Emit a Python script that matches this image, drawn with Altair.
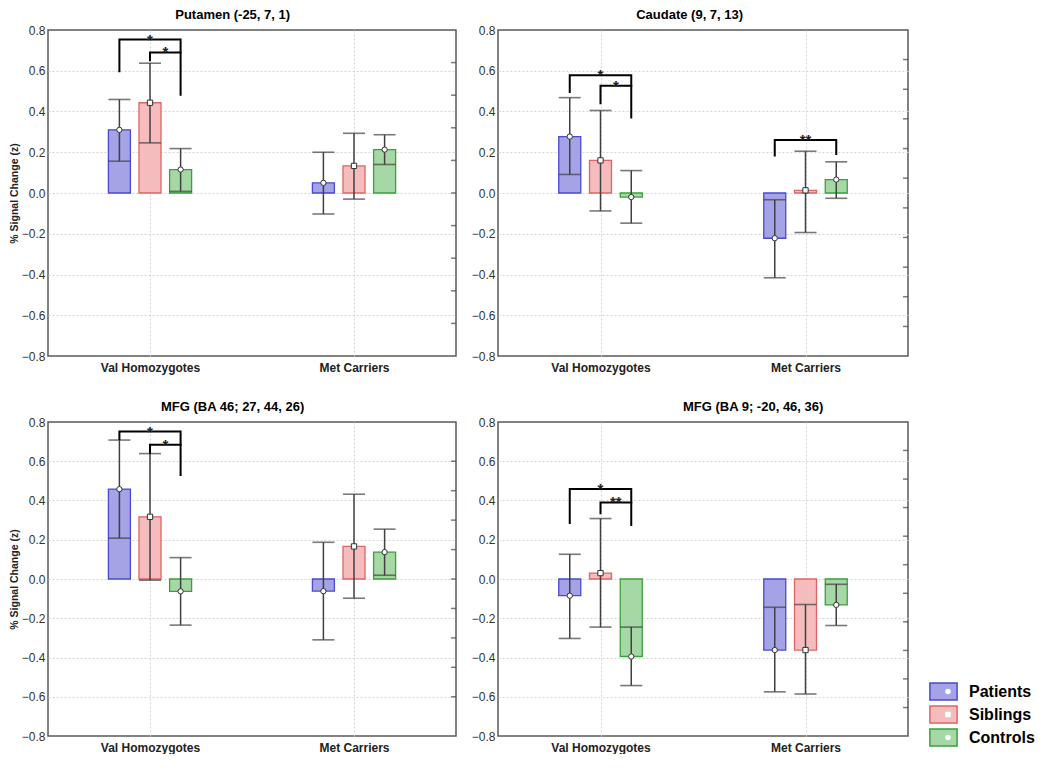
import altair as alt
import pandas as pd

FONT = "Liberation Sans"

regions = ["Putamen (-25, 7, 1)", "Caudate (9, 7, 13)",
           "MFG (BA 46; 27, 44, 26)", "MFG (BA 9; -20, 46, 36)"]
genotypes = ["Val Homozygotes", "Met Carriers"]
groups = ["Patients", "Siblings", "Controls"]

# order inside each region: Val P, Val S, Val C, Met P, Met S, Met C
means = [
    [0.310, 0.443, 0.115, 0.050, 0.133, 0.213],
    [0.277, 0.160, -0.020, -0.222, 0.013, 0.066],
    [0.458, 0.317, -0.063, -0.062, 0.166, 0.137],
    [-0.085, 0.030, -0.395, -0.362, -0.362, -0.132],
]
lows = [
    [0.156, 0.246, 0.008, -0.103, -0.030, 0.140],
    [0.091, -0.088, -0.148, -0.416, -0.194, -0.026],
    [0.208, -0.006, -0.235, -0.310, -0.098, 0.019],
    [-0.303, -0.245, -0.543, -0.575, -0.586, -0.237],
]
highs = [
    [0.459, 0.637, 0.218, 0.200, 0.293, 0.286],
    [0.468, 0.405, 0.110, -0.033, 0.205, 0.153],
    [0.708, 0.639, 0.109, 0.187, 0.432, 0.254],
    [0.126, 0.308, -0.245, -0.144, -0.130, -0.027],
]

# minor ticks on the right-hand frame of each panel
right_ticks = [
    [-0.64, -0.48, -0.32, -0.16, 0.0, 0.16, 0.32, 0.48, 0.64],
    [-0.655, -0.509, -0.364, -0.218, -0.073, 0.073, 0.218, 0.364, 0.509, 0.655],
    [-0.60, -0.45, -0.30, -0.15, 0.0, 0.15, 0.30, 0.45, 0.60],
    [-0.655, -0.509, -0.364, -0.218, -0.073, 0.073, 0.218, 0.364, 0.509, 0.655],
]

# significance brackets
br_region = [0, 0, 1, 1, 1, 2, 2, 3, 3]
br_genotype = [0, 0, 0, 0, 1, 0, 0, 0, 0]
br_left = ["Patients", "Siblings", "Patients", "Siblings", "Patients",
           "Patients", "Siblings", "Patients", "Siblings"]
br_right = ["Controls"] * 9
br_level = [0.753, 0.690, 0.578, 0.526, 0.260, 0.751, 0.684, 0.459, 0.390]
br_left_end = [0.597, 0.652, 0.496, 0.441, 0.184, 0.713, 0.642, 0.285, 0.335]
br_right_end = [0.482, 0.690, 0.370, 0.526, 0.192, 0.530, 0.684, 0.275, 0.390]
br_label = ["*", "*", "*", "*", "**", "*", "*", "*", "**"]

fills = ["#a3a3e6", "#f4bcbc", "#a6d8a6"]
strokes = ["#4a4ad0", "#e06464", "#3aa03a"]
shapes = ["circle", "square", "circle"]
marker_names = ["m_" + g for g in groups]

GROUP_OFFSET = 0.30
cpos = {c: 1 + 2 * i for i, c in enumerate(genotypes)}
gpos = {g: (i - 1) * GROUP_OFFSET for i, g in enumerate(groups)}

rows = []
for r, reg in enumerate(regions):
    k = 0
    for c in genotypes:
        for gi, g in enumerate(groups):
            rows.append(dict(region=reg, genotype=c, group=g, marker=marker_names[gi],
                             xpos=cpos[c] + gpos[g], mean=means[r][k],
                             lo=lows[r][k], hi=highs[r][k]))
            k += 1
bars = pd.DataFrame(rows)

path_rows, lab_rows = [], []
for i in range(len(br_region)):
    reg = regions[br_region[i]]
    c = genotypes[br_genotype[i]]
    xl = cpos[c] + gpos[br_left[i]]
    xr = cpos[c] + gpos[br_right[i]]
    pts = [(xl, br_left_end[i]), (xl, br_level[i]), (xr, br_level[i]), (xr, br_right_end[i])]
    for o, (bx, by) in enumerate(pts):
        path_rows.append(dict(region=reg, bid=i, ord=o, bx=bx, by=by))
    lab_rows.append(dict(region=reg, tx=(xl + xr) / 2, ty=br_level[i], label=br_label[i]))
paths = pd.DataFrame(path_rows)
labels = pd.DataFrame(lab_rows)

tick_df = pd.DataFrame([dict(region=regions[r], t=t)
                        for r in range(len(regions)) for t in right_ticks[r]])

xscale = alt.Scale(domain=[0, 4], nice=False, zero=False, padding=0)
yscale = alt.Scale(domain=[-0.8, 0.8], nice=False, zero=False, padding=0)


def xaxis():
    return alt.Axis(values=[1, 3], title=None,
                    labelExpr="datum.value == 1 ? 'Val Homozygotes' : 'Met Carriers'",
                    labelFontWeight="bold", labelFontSize=12, labelColor="#222",
                    labelPadding=6, grid=True, ticks=False, domain=False)


def yaxis(show_title):
    kw = dict(values=[-0.8, -0.6, -0.4, -0.2, 0.0, 0.2, 0.4, 0.6, 0.8], format=".1f",
              labelFontSize=12, labelColor="#333", labelPadding=3, grid=True,
              gridOpacity=alt.condition("abs(datum.value) > 0.79", alt.value(0), alt.value(1)),
              ticks=False, domain=False)
    if show_title:
        kw.update(title="% Signal Change (z)", titleFontSize=10.5, titleFontWeight="bold",
                  titleColor="#222", titlePadding=2)
    else:
        kw.update(title=None)
    return alt.Axis(**kw)


def panel(r, w, h, show_title, with_legend, lx=0, ly=0):
    reg = regions[r]
    d = bars[bars.region == reg]
    X = lambda f: alt.X(f, scale=xscale, axis=xaxis())
    Y = lambda f: alt.Y(f, scale=yscale, axis=yaxis(show_title))

    if with_legend:
        fill_leg = alt.Legend(title=None, orient="none", legendX=lx, legendY=ly,
                              symbolType="M-1.6,-1H1.6V1H-1.6Z", symbolSize=289,
                              symbolStrokeWidth=1.5, symbolOffset=5, labelOffset=16,
                              labelFont=FONT, labelFontSize=16, labelFontWeight="bold",
                              labelColor="black", rowPadding=4, clipHeight=19,
                              symbolOpacity=1)
        shape_leg = alt.Legend(title=None, orient="none", legendX=lx, legendY=ly,
                               symbolSize=30, symbolStrokeWidth=1,
                               symbolFillColor="white", symbolStrokeColor="black",
                               symbolOffset=11, labelExpr="''", labelFontSize=16,
                               rowPadding=4, clipHeight=19)
    else:
        fill_leg = None
        shape_leg = None

    fill_enc = alt.Fill("group:N", scale=alt.Scale(domain=groups, range=fills),
                        legend=fill_leg)
    stroke_enc = alt.Stroke("group:N", scale=alt.Scale(domain=groups, range=strokes),
                            legend=fill_leg)

    b = alt.Chart(d).mark_bar(size=22, strokeWidth=1.3, opacity=1).encode(
        x=X("xpos:Q"), y=Y("mean:Q"), y2=alt.datum(0), fill=fill_enc, stroke=stroke_enc)

    whisk = alt.Chart(d).mark_rule(color="#404040", strokeWidth=1.5).encode(
        x=X("xpos:Q"), y=Y("lo:Q"), y2="hi:Q")

    caps = alt.Chart(d).transform_fold(["lo", "hi"], as_=["k", "v"]).mark_tick(
        orient="horizontal", size=22, thickness=1.6, color="#404040").encode(
        x=X("xpos:Q"), y=Y("v:Q"))

    pts = alt.Chart(d).mark_point(filled=True, fill="white", stroke="#303030",
                                  strokeWidth=1, size=28, opacity=1).encode(
        x=X("xpos:Q"), y=Y("mean:Q"),
        shape=alt.Shape("marker:N", scale=alt.Scale(domain=marker_names, range=shapes),
                        legend=shape_leg))

    pth = alt.Chart(paths[paths.region == reg]).mark_line(
        color="black", strokeWidth=2, strokeCap="square").encode(
        x=X("bx:Q"), y=Y("by:Q"), detail="bid:N", order="ord:Q")

    txt = alt.Chart(labels[labels.region == reg]).mark_text(
        font=FONT, fontSize=15, fontWeight="bold", baseline="alphabetic", dy=5,
        color="#222").encode(x=X("tx:Q"), y=Y("ty:Q"), text="label:N")

    rt = alt.Chart(tick_df[tick_df.region == reg]).mark_tick(
        orient="horizontal", size=5, thickness=1.5, xOffset=-2.5, color="#444").encode(
        x=alt.X(datum=4, scale=xscale, axis=xaxis()), y=Y("t:Q"))

    return alt.layer(b, whisk, caps, pts, pth, txt, rt).properties(
        width=w, height=h,
        title=alt.TitleParams(reg, font=FONT, fontSize=13, fontWeight="bold",
                              color="black", anchor="middle", frame="bounds", offset=2))


res = dict(fill="independent", stroke="independent", shape="independent")

p1 = panel(0, 408, 326, True, False)
p2 = panel(1, 410, 326, False, False)
p3 = panel(2, 408, 314, True, False)
p4 = panel(3, 410, 314, False, True, lx=431, ly=260)

row1 = alt.hconcat(p1, p2, spacing=13).resolve_scale(**res)
row2 = alt.hconcat(p3, p4, spacing=13).resolve_scale(**res)

chart = alt.vconcat(row1, row2, spacing=26).resolve_scale(**res).properties(
    padding={"left": 0, "top": 0, "right": 0, "bottom": 0}
).configure_view(
    stroke="#5a5a5a", strokeWidth=1.5
).configure_axis(
    labelFont=FONT, titleFont=FONT, gridColor="#d4d4d4", gridDash=[2, 2], gridWidth=1
).configure_text(font=FONT)

chart.save("out.html", embed_options={"renderer": "svg", "actions": False})
